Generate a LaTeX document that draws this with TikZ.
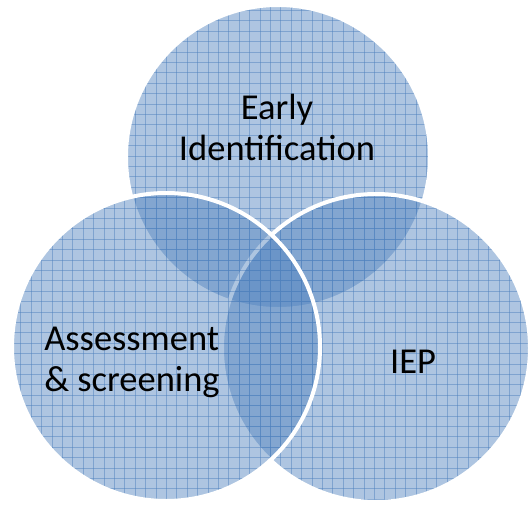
\documentclass[tikz,border=0pt]{standalone}
\usepackage{fontspec}
\setmainfont{Carlito}
\definecolor{vblue}{HTML}{4F81BD}
\definecolor{vgrid}{HTML}{4F81BD}
\tikzset{
  vfill/.style={fill=vblue, fill opacity=0.46},
  vline/.style={draw=white, line width=4pt},
  gline/.style={vgrid, line width=0.7pt, opacity=0.5},
  lbl/.style={font=\fontsize{36.5}{41}\selectfont, text=black, align=center, inner sep=0pt},
}
\newcommand{\vgridin}[3]{%
  \begin{scope}
    \clip (#1,#2) circle (#3);
    \foreach \k in {0,...,51} {
      \draw[gline] (\k*10.4,0) -- (\k*10.4,506);
      \draw[gline] (0,\k*10.4) -- (530,\k*10.4);
    }
  \end{scope}}
\begin{document}
\begin{tikzpicture}[x=1pt,y=-1pt]
\useasboundingbox (0,0) rectangle (530,506);
\coordinate (ct) at (278,157);
\coordinate (cl) at (166,347);
\coordinate (cr) at (376,348);
% top circle
\fill[vfill] (ct) circle (152);
\vgridin{278}{157}{152}
\draw[vline] (ct) circle (152);
% right circle
\fill[vfill] (cr) circle (154);
\vgridin{376}{348}{154}
\draw[vline] (cr) circle (154);
% left circle
\fill[vfill] (cl) circle (154);
\vgridin{166}{347}{154}
\draw[vline] (cl) circle (154);
\node[lbl] (t) at (277,127) {Early\\Identification};
\node[lbl, align=left] (l) at (132,362) {Assessment\\\& screening};
\node[lbl] (r) at (413,362) {IEP};
\end{tikzpicture}
\end{document}
